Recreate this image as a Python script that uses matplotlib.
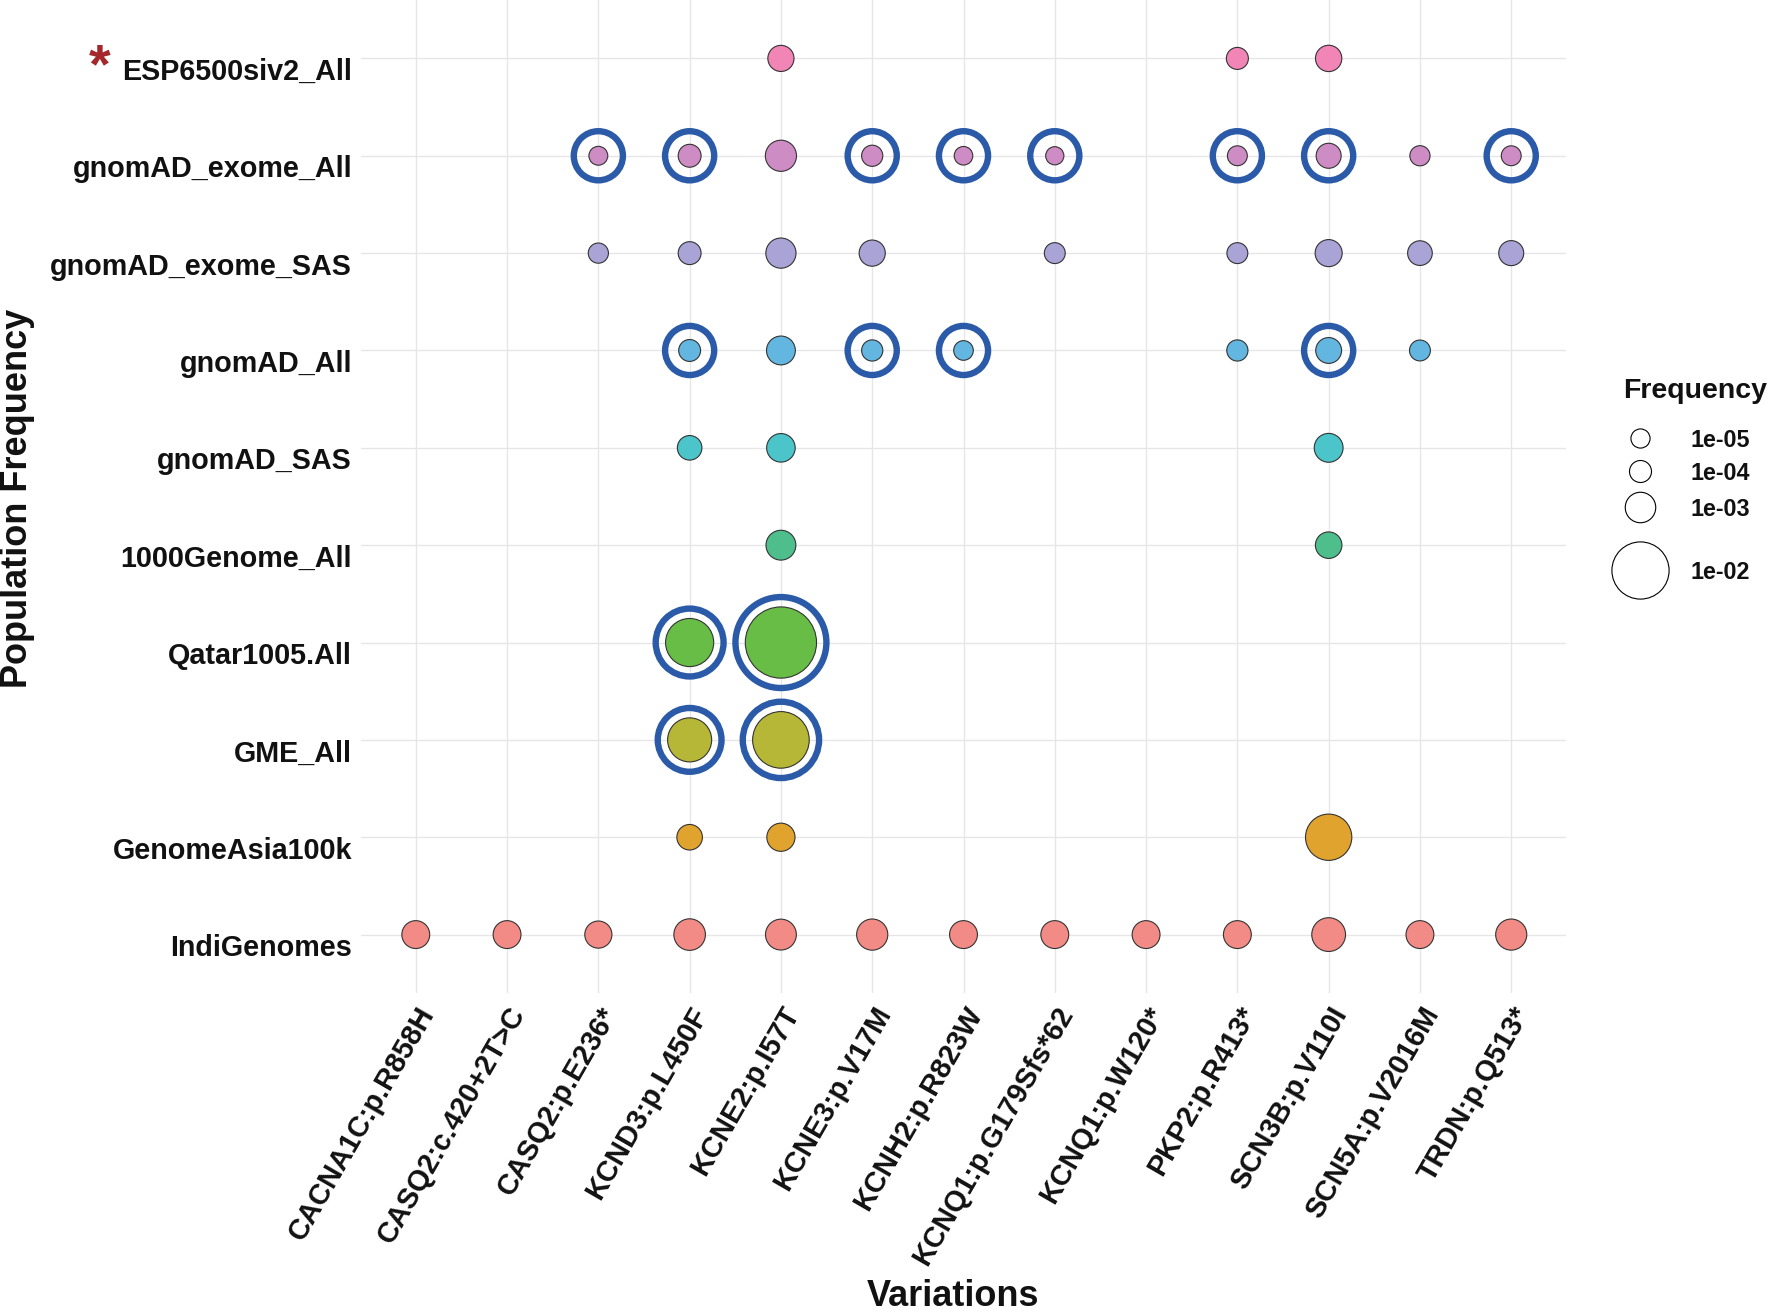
import matplotlib
matplotlib.use("Agg")
import matplotlib.pyplot as plt
import numpy as np
from matplotlib.transforms import blended_transform_factory, ScaledTranslation

plt.rcParams['font.family'] = ['Liberation Sans', 'DejaVu Sans']

# ---------------- data ----------------
variations = ["CACNA1C:p.R858H", "CASQ2:c.420+2T>C", "CASQ2:p.E236*", "KCND3:p.L450F",
              "KCNE2:p.I57T", "KCNE3:p.V17M", "KCNH2:p.R823W", "KCNQ1:p.G179Sfs*62",
              "KCNQ1:p.W120*", "PKP2:p.R413*", "SCN3B:p.V110I", "SCN5A:p.V2016M",
              "TRDN:p.Q513*"]

# populations from bottom to top
populations = ["IndiGenomes", "GenomeAsia100k", "GME_All", "Qatar1005.All", "1000Genome_All",
               "gnomAD_SAS", "gnomAD_All", "gnomAD_exome_SAS", "gnomAD_exome_All",
               "ESP6500siv2_All"]

N = None
#                  CACNA1C CASQ2c  CASQ2p  KCND3   KCNE2   KCNE3   KCNH2   KCNQ1G  KCNQ1W  PKP2    SCN3B   SCN5A   TRDN
indigenomes      = [6.2e-4, 6.2e-4, 5.3e-4, 1.18e-3, 1.06e-3, 1.11e-3, 6.2e-4, 6.2e-4, 6.2e-4, 6.2e-4, 1.6e-3, 6.2e-4, 1.1e-3]
genomeasia100k   = [N, N, N, 3.6e-4, 6.6e-4, N, N, N, N, N, 5.2e-3, N, N]
gme_all          = [N, N, N, 4.4e-3, 9.7e-3, N, N, N, N, N, N, N, N]
qatar1005_all    = [N, N, N, 5.9e-3, 1.85e-2, N, N, N, N, N, N, N, N]
g1000_all        = [N, N, N, N, 9.0e-4, N, N, N, N, N, 4.6e-4, N, N]
gnomad_sas       = [N, N, N, 2.7e-4, 7.1e-4, N, N, N, N, N, 7.5e-4, N, N]
gnomad_all       = [N, N, N, 9.4e-5, 7.5e-4, 6.3e-5, 1.7e-5, N, N, 6.3e-5, 3.9e-4, 5.2e-5, N]
gnomad_exome_sas = [N, N, 3.0e-5, 1.5e-4, 9.5e-4, 4.2e-4, N, 5.2e-5, N, 5.2e-5, 5.2e-4, 2.8e-4, 3.1e-4]
gnomad_exome_all = [N, N, 7.0e-6, 1.5e-4, 1.11e-3, 6.3e-5, 5.0e-6, 4.0e-6, N, 2.3e-5, 3.1e-4, 3.0e-5, 2.3e-5]
esp6500siv2_all  = [N, N, N, N, 4.2e-4, N, N, N, N, 1.0e-4, 4.4e-4, N, N]

freq_table = [indigenomes, genomeasia100k, gme_all, qatar1005_all, g1000_all,
              gnomad_sas, gnomad_all, gnomad_exome_sas, gnomad_exome_all, esp6500siv2_all]

# highlighted (circled) variants per population
highlight_gnomad_exome_all = ["CASQ2:p.E236*", "KCND3:p.L450F", "KCNE3:p.V17M", "KCNH2:p.R823W",
                              "KCNQ1:p.G179Sfs*62", "PKP2:p.R413*", "SCN3B:p.V110I", "TRDN:p.Q513*"]
highlight_gnomad_all = ["KCND3:p.L450F", "KCNE3:p.V17M", "KCNH2:p.R823W", "SCN3B:p.V110I"]
highlight_qatar = ["KCND3:p.L450F", "KCNE2:p.I57T"]
highlight_gme = ["KCND3:p.L450F", "KCNE2:p.I57T"]
highlights = {"gnomAD_exome_All": highlight_gnomad_exome_all, "gnomAD_All": highlight_gnomad_all,
              "Qatar1005.All": highlight_qatar, "GME_All": highlight_gme}

legend_breaks = [1e-05, 1e-04, 1e-03, 1e-02]
legend_labels = ["1e-05", "1e-04", "1e-03", "1e-02"]

pop_colors = ["#F28B86", "#E0A32E", "#B7B737", "#67BD46", "#4DBE8C",
              "#4CC5CA", "#62B6E0", "#A9A3D6", "#CE8CC4", "#F185B6"]

# ---------------- figure ----------------
W, H, DPI = 1770, 1315, 100
fig = plt.figure(figsize=(W / DPI, H / DPI), dpi=DPI)
px_per_pt = DPI / 72.0

L, R, T, B = 361, 1566, 0, 993
ax = fig.add_axes([L / W, 1 - B / H, (R - L) / W, (B - T) / H])
ax.set_xlim(-0.6, len(variations) - 0.4)
ax.set_ylim(-0.6, len(populations) - 0.4)
for s in ax.spines.values():
    s.set_visible(False)
ax.set_xticks(range(len(variations)))
ax.set_yticks(range(len(populations)))
ax.set_xticklabels([])
ax.set_yticklabels([])
ax.tick_params(length=0)
ax.grid(True, color="#E6E6E6", lw=1.0, zorder=0)
ax.set_axisbelow(True)

all_vals = [v for row in freq_table for v in row if v is not None]
vmin = min(all_vals)
D0, K = 19.3, 390.0  # px
edge_lw = 0.8


def outer_px(v):
    return D0 + K * np.sqrt(max(v - vmin, 0.0))


def area_pt(d_outer_px, lw_pt):
    d = d_outer_px - lw_pt * px_per_pt
    return (d / px_per_pt) ** 2


ring_lw = 4.6
for yi, (pop, row) in enumerate(zip(populations, freq_table)):
    xs, ss, rx, rs = [], [], [], []
    for xi, v in enumerate(row):
        if v is None:
            continue
        d = outer_px(v)
        xs.append(xi)
        ss.append(area_pt(d, edge_lw))
        if variations[xi] in highlights.get(pop, []):
            rx.append(xi)
            rs.append(area_pt(max(55.5, d + 25), ring_lw))
    ax.scatter(xs, [yi] * len(xs), s=ss, c=pop_colors[yi], edgecolors="#333333",
               linewidths=edge_lw, zorder=3)
    if rx:
        ax.scatter(rx, [yi] * len(rx), s=rs, facecolors="none", edgecolors="#2B5BA8",
                   linewidths=ring_lw, zorder=4)

# y tick labels (slightly below row centre as in reference)
ty = blended_transform_factory(ax.transAxes, ax.transData)
offy = ScaledTranslation(-9 / DPI, -21.5 / DPI, fig.dpi_scale_trans)
for yi, pop in enumerate(populations):
    ax.text(0, yi, pop, transform=ty + offy, ha="right", va="baseline",
            fontsize=20.7, fontweight="bold", color="#111111")

# x tick labels
tx = blended_transform_factory(ax.transData, ax.transAxes)
offx = ScaledTranslation(0, -9 / DPI, fig.dpi_scale_trans)
for xi, var in enumerate(variations):
    ax.text(xi, 0, var, transform=tx + offx, ha="right", va="top", rotation=60,
            rotation_mode="anchor", fontsize=20.7, fontweight="bold", color="#111111")

# overlay in pixel coords for titles / legend
ov = fig.add_axes([0, 0, 1, 1], zorder=5)
ov.set_xlim(0, W)
ov.set_ylim(H, 0)
ov.axis("off")
ov.patch.set_alpha(0)

ov.text(18, 498, "Population Frequency", rotation=90, ha="center", va="center",
        fontsize=26, fontweight="bold", color="#111111")
ov.text(953, 1306, "Variations", ha="center", va="baseline",
        fontsize=26, fontweight="bold", color="#111111")
ov.text(100, 82, "*", ha="center", va="baseline", fontsize=40, fontweight="bold",
        color="#A3272B")

# legend
ov.text(1623, 398, "Frequency", ha="left", va="baseline", fontsize=20.5,
        fontweight="bold", color="#111111")
leg_y = [438, 471, 507, 570]
leg_fs = 16.8
cap = 0.716 * leg_fs * px_per_pt
for yy, br, lab in zip(leg_y, legend_breaks, legend_labels):
    ov.scatter([1640], [yy], s=area_pt(outer_px(br), edge_lw), facecolors="white",
               edgecolors="black", linewidths=edge_lw)
    ov.text(1691, yy + cap / 2 + 1, lab, ha="left", va="baseline", fontsize=leg_fs,
            fontweight="bold", color="#111111")

fig.savefig("out.png", dpi=DPI)
